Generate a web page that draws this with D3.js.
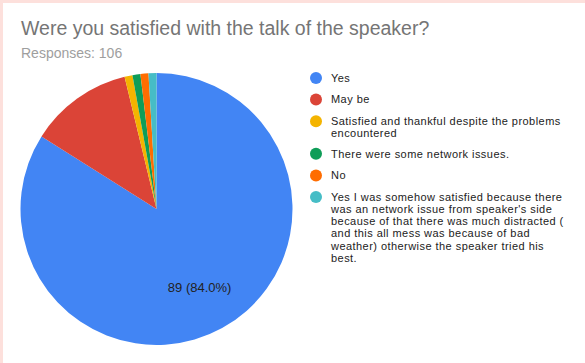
<!DOCTYPE html>
<html>
<head>
<meta charset="utf-8">
<script src="https://cdn.jsdelivr.net/npm/d3@7"></script>
<style>
  html, body { margin: 0; padding: 0; background: #fde0dc; }
  svg { display: block; }
</style>
</head>
<body>
<script>
const title = "Were you satisfied with the talk of the speaker?";
const subtitle = "Responses: 106";
const categories = [
  "Yes",
  "May be",
  "Satisfied and thankful despite the problems\nencountered",
  "There were some network issues.",
  "No",
  "Yes I was somehow satisfied because there\nwas an network issue from speaker's side\nbecause of that there was much distracted (\nand this all mess was because of bad\nweather) otherwise the speaker tried his\nbest."
];
const values = [89, 13, 1, 1, 1, 1];
const colors = ["#4285f4", "#db4437", "#f4b400", "#0f9d58", "#ff6d01", "#46bdc6"];

const W = 585, H = 363;
const svg = d3.select("body").append("svg").attr("width", W).attr("height", H);
svg.append("rect").attr("x", 3).attr("y", 3).attr("width", W - 3).attr("height", H - 3).attr("fill", "#ffffff");

const font = "Arial, 'Liberation Sans', sans-serif";
svg.append("text").attr("x", 21).attr("y", 35).attr("font-family", font)
  .attr("font-size", 19.5).attr("fill", "#757575").text(title);
svg.append("text").attr("x", 21).attr("y", 58).attr("font-family", font)
  .attr("font-size", 14).attr("fill", "#9e9e9e").text(subtitle);

const total = d3.sum(values);
const data = categories.map((c, i) => ({ c, v: values[i], col: colors[i] }));
const pie = d3.pie().value(d => d.v).sort(null);
const arcs = pie(data);
const cx = 156.5, cy = 209, r = 136;
const g = svg.append("g").attr("transform", `translate(${cx},${cy})`);
const arc = d3.arc().innerRadius(0).outerRadius(r);
g.selectAll("path").data(arcs).join("path").attr("d", arc).attr("fill", d => d.data.col);

const labelArc = d3.arc().innerRadius(r * 0.657).outerRadius(r * 0.657);
g.selectAll("text.lbl").data(arcs.filter(d => d.data.v / total > 0.5))
  .join("text").attr("class", "lbl")
  .attr("transform", d => `translate(${labelArc.centroid(d)})`)
  .attr("text-anchor", "middle").attr("dy", "0.35em")
  .attr("font-family", font).attr("font-size", 13).attr("fill", "#222222")
  .text(d => `${d.data.v} (${(d.data.v / total * 100).toFixed(1)}%)`);

// legend
const lx = 316, tx = 331, lineH = 12.2;
let y = 78;
const lg = svg.append("g");
data.forEach(d => {
  const lines = d.c.split("\n");
  lg.append("circle").attr("cx", lx).attr("cy", y).attr("r", 6).attr("fill", d.col);
  lines.forEach((ln, k) => {
    lg.append("text").attr("font-family", font).attr("font-size", 11)
      .attr("letter-spacing", 0.45).attr("fill", "#222222")
      .attr("x", tx).attr("y", y + k * lineH).attr("dy", "0.35em").text(ln);
  });
  y += 21.6 + (lines.length - 1) * 11;
});
</script>
</body>
</html>
